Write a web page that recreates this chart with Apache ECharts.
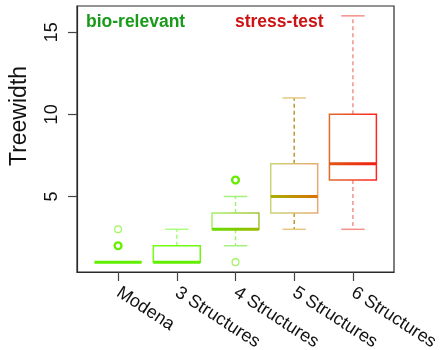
<!DOCTYPE html>
<html>
<head>
<meta charset="utf-8">
<script src="https://cdn.jsdelivr.net/npm/echarts@6/dist/echarts.min.js"></script>
<style>
  html, body { margin: 0; padding: 0; background: #ffffff; }
  #chart { width: 445px; height: 350px; }
</style>
</head>
<body>
<div id="chart"></div>
<script>
// Treewidth distribution per benchmark set
const categories = ['Modena', '3 Structures', '4 Structures', '5 Structures', '6 Structures'];
const whiskerLow  = [1, 1, 2, 3, 3];
const quartile1   = [1, 1, 3, 4, 6];
const medians     = [1, 1, 3, 5, 7];
const quartile3   = [1, 2, 4, 7, 10];
const whiskerHigh = [1, 3, 5, 11, 16];

// outliers: category position, treewidth value, number of coinciding instances
const outlierPos   = [1, 1, 3, 3];
const outlierVal   = [2, 3, 6, 1];
const outlierCount = [2, 1, 2, 1];

const yTicks = [5, 10, 15];
const xTicks = [1, 2, 3, 4, 5];

// per-set colours (left / right ends of the box give the green-to-red shading)
const palette = [
  { boxL: '#66ff00', boxR: '#66ff00', medL: '#5ff000', medR: '#5ff000', whisker: '#66ff00', cap: '#66ff00', out: '102,240,0' },
  { boxL: '#72ff14', boxR: '#6cf80c', medL: '#62ee00', medR: '#62ee00', whisker: '#9dff6a', cap: '#a8ff84', out: '102,240,0' },
  { boxL: '#a8f06c', boxR: '#a0c434', medL: '#66dd00', medR: '#9cb800', whisker: '#a0f070', cap: '#a4f07c', out: '102,236,0' },
  { boxL: '#cad476', boxR: '#e6aa70', medL: '#a8b000', medR: '#d87200', whisker: '#b8921e', cap: '#e4c880', out: '184,146,30' },
  { boxL: '#e06a2a', boxR: '#ff2424', medL: '#e05814', medR: '#f41c10', whisker: '#f08c82', cap: '#f2908a', out: '240,60,40' }
];

const boxData = categories.map((_, i) => [
  i + 1, whiskerLow[i], quartile1[i], medians[i], quartile3[i], whiskerHigh[i]
]);

const outlierData = outlierVal.map((v, k) => [outlierPos[k], v, outlierCount[k]]);

function renderBox(params, api) {
  const i = params.dataIndex;
  const c = palette[i];
  const x = api.value(0);
  const w = api.size([0.8, 0])[0];
  const pMin = api.coord([x, api.value(1)]);
  const pQ1 = api.coord([x, api.value(2)]);
  const pMed = api.coord([x, api.value(3)]);
  const pQ3 = api.coord([x, api.value(4)]);
  const pMax = api.coord([x, api.value(5)]);
  const cx = pMin[0];
  const xl = cx - w / 2, xr = cx + w / 2;
  const cw = w / 2;
  const grad = (a, b) => new echarts.graphic.LinearGradient(
    xl, 0, xr, 0, [{ offset: 0, color: a }, { offset: 1, color: b }], true);
  const dash = { lineWidth: 1.4, lineDash: [4, 3], stroke: c.whisker };
  return {
    type: 'group',
    children: [
      { type: 'line', shape: { x1: cx, y1: pQ1[1], x2: cx, y2: pMin[1] }, style: dash },
      { type: 'line', shape: { x1: cx, y1: pQ3[1], x2: cx, y2: pMax[1] }, style: dash },
      { type: 'line', shape: { x1: cx - cw / 2, y1: pMin[1], x2: cx + cw / 2, y2: pMin[1] },
        style: { stroke: c.cap, lineWidth: 1.5 } },
      { type: 'line', shape: { x1: cx - cw / 2, y1: pMax[1], x2: cx + cw / 2, y2: pMax[1] },
        style: { stroke: c.cap, lineWidth: 1.5 } },
      { type: 'rect', shape: { x: xl, y: pQ3[1], width: w, height: pQ1[1] - pQ3[1] },
        style: { fill: 'none', stroke: grad(c.boxL, c.boxR), lineWidth: 1.5 } },
      { type: 'line', shape: { x1: xl, y1: pMed[1], x2: xr, y2: pMed[1] },
        style: { stroke: grad(c.medL, c.medR), lineWidth: 3 } }
    ]
  };
}

function renderOutlier(params, api) {
  const p = api.coord([api.value(0), api.value(1)]);
  const n = api.value(2);
  const c = palette[api.value(0) - 1];
  return {
    type: 'circle',
    shape: { cx: p[0], cy: p[1], r: 3.4 },
    style: {
      fill: 'none',
      stroke: 'rgba(' + c.out + ',' + (n > 1 ? 1 : 0.6) + ')',
      lineWidth: n > 1 ? 2.4 : 1.3
    }
  };
}

const chart = echarts.init(document.getElementById('chart'), null, { renderer: 'canvas' });
chart.setOption({
  animation: false,
  backgroundColor: '#ffffff',
  grid: {
    left: 77, right: 51, top: 6, bottom: 78,
    outerBoundsMode: 'none', containLabel: false,
    show: true, borderColor: '#2a2a2a', borderWidth: 1.2, backgroundColor: 'transparent'
  },
  xAxis: {
    type: 'value', min: 0.3, max: 5.7,
    splitLine: { show: false },
    axisLine: { show: true, lineStyle: { color: '#2a2a2a', width: 1.2 } },
    axisTick: { show: true, customValues: xTicks, length: 9, lineStyle: { color: '#444', width: 1.2 } },
    axisLabel: {
      customValues: xTicks,
      formatter: v => categories[Math.round(v) - 1],
      rotate: -33, margin: 19,
      fontSize: 18, fontFamily: 'Liberation Sans', color: '#111'
    }
  },
  yAxis: {
    type: 'value', min: 0.4, max: 16.6,
    splitLine: { show: false },
    axisLine: { show: true, lineStyle: { color: '#2a2a2a', width: 1.2 } },
    axisTick: { show: true, customValues: yTicks, length: 9, lineStyle: { color: '#444', width: 1.2 } },
    axisLabel: {
      customValues: yTicks,
      rotate: 90, margin: 16,
      fontSize: 18, fontFamily: 'Liberation Sans', color: '#111'
    }
  },
  graphic: [
    { type: 'text', left: 86, top: 13,
      style: { text: 'bio-relevant', font: 'bold 17.5px "Liberation Sans"', fill: '#1a9a1a' } },
    { type: 'text', left: 235, top: 13,
      style: { text: 'stress-test', font: 'bold 17.5px "Liberation Sans"', fill: '#cc1414' } },
    { type: 'text', x: 20, y: 116, rotation: Math.PI / 2,
      style: { text: 'Treewidth', font: '23px "Liberation Sans"', fill: '#111', align: 'center', verticalAlign: 'middle' } }
  ],
  series: [
    {
      type: 'custom', renderItem: renderBox, data: boxData,
      encode: { x: 0, y: [1, 2, 3, 4, 5] }, clip: false, z: 2
    },
    {
      type: 'custom', renderItem: renderOutlier, data: outlierData,
      encode: { x: 0, y: 1 }, z: 3
    }
  ]
});
</script>
</body>
</html>
